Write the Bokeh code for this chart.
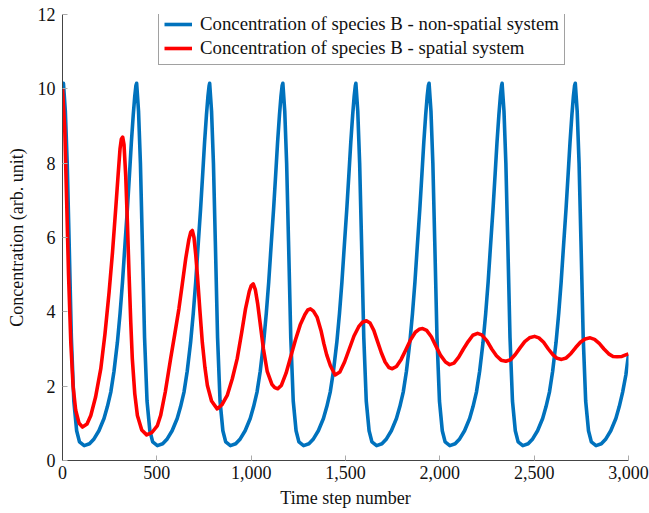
from bokeh.plotting import figure
from bokeh.models import Range1d, NumeralTickFormatter, FixedTicker, Legend, LegendItem
from bokeh.embed import file_html
from bokeh.resources import INLINE

# ---------------- data ----------------
x_ticks = [0, 500, 1000, 1500, 2000, 2500, 3000]
y_ticks = [0, 2, 4, 6, 8, 10, 12]

label_blue = "Concentration of species B - non-spatial system"
label_red = "Concentration of species B - spatial system"
x_label = "Time step number"
y_label = "Concentration (arb. unit)"

blue_x = [0,
          5, 15, 25, 35, 47, 60, 75, 90, 115, 143, 167, 193, 220, 238, 256, 273, 291, 305, 318, 331, 344, 355, 365, 375, 383, 389,
          393, 403, 413, 423, 435, 448, 463, 478, 503, 531, 555, 581, 608, 626, 644, 661, 679, 693, 706, 719, 732, 743, 753, 763, 771, 777,
          780, 790, 800, 810, 822, 835, 850, 865, 890, 918, 942, 968, 995, 1013, 1031, 1048, 1066, 1080, 1093, 1106, 1119, 1130, 1140, 1150, 1158, 1164,
          1168, 1178, 1188, 1198, 1210, 1223, 1238, 1253, 1278, 1306, 1330, 1356, 1383, 1401, 1419, 1436, 1454, 1468, 1481, 1494, 1507, 1518, 1528, 1538, 1546, 1552,
          1555, 1565, 1575, 1585, 1597, 1610, 1625, 1640, 1665, 1693, 1717, 1743, 1770, 1788, 1806, 1823, 1841, 1855, 1868, 1881, 1894, 1905, 1915, 1925, 1933, 1939,
          1943, 1953, 1963, 1973, 1985, 1998, 2013, 2028, 2053, 2081, 2105, 2131, 2158, 2176, 2194, 2211, 2229, 2243, 2256, 2269, 2282, 2293, 2303, 2313, 2321, 2327,
          2330, 2340, 2350, 2360, 2372, 2385, 2400, 2415, 2440, 2468, 2492, 2518, 2545, 2563, 2581, 2598, 2616, 2630, 2643, 2656, 2669, 2680, 2690, 2700, 2708, 2714,
          2718, 2728, 2738, 2748, 2760, 2773, 2788, 2803, 2828, 2856, 2880, 2906, 2933, 2951, 2969, 2986, 3000]
blue_y = [10.0,
          10.15, 9.4, 8.0, 5.9, 3.3, 1.6, 0.8, 0.5, 0.40, 0.45, 0.58, 0.8, 1.13, 1.45, 1.84, 2.4, 3.18, 3.95, 4.8, 5.8, 6.78, 7.7, 8.56, 9.3, 9.8, 10.08,
          10.15, 9.4, 8.0, 5.9, 3.3, 1.6, 0.8, 0.5, 0.40, 0.45, 0.58, 0.8, 1.13, 1.45, 1.84, 2.4, 3.18, 3.95, 4.8, 5.8, 6.78, 7.7, 8.56, 9.3, 9.8, 10.08,
          10.15, 9.4, 8.0, 5.9, 3.3, 1.6, 0.8, 0.5, 0.40, 0.45, 0.58, 0.8, 1.13, 1.45, 1.84, 2.4, 3.18, 3.95, 4.8, 5.8, 6.78, 7.7, 8.56, 9.3, 9.8, 10.08,
          10.15, 9.4, 8.0, 5.9, 3.3, 1.6, 0.8, 0.5, 0.40, 0.45, 0.58, 0.8, 1.13, 1.45, 1.84, 2.4, 3.18, 3.95, 4.8, 5.8, 6.78, 7.7, 8.56, 9.3, 9.8, 10.08,
          10.15, 9.4, 8.0, 5.9, 3.3, 1.6, 0.8, 0.5, 0.40, 0.45, 0.58, 0.8, 1.13, 1.45, 1.84, 2.4, 3.18, 3.95, 4.8, 5.8, 6.78, 7.7, 8.56, 9.3, 9.8, 10.08,
          10.15, 9.4, 8.0, 5.9, 3.3, 1.6, 0.8, 0.5, 0.40, 0.45, 0.58, 0.8, 1.13, 1.45, 1.84, 2.4, 3.18, 3.95, 4.8, 5.8, 6.78, 7.7, 8.56, 9.3, 9.8, 10.08,
          10.15, 9.4, 8.0, 5.9, 3.3, 1.6, 0.8, 0.5, 0.40, 0.45, 0.58, 0.8, 1.13, 1.45, 1.84, 2.4, 3.18, 3.95, 4.8, 5.8, 6.78, 7.7, 8.56, 9.3, 9.8, 10.08,
          10.15, 9.4, 8.0, 5.9, 3.3, 1.6, 0.8, 0.5, 0.40, 0.45, 0.58, 0.8, 1.13, 1.45, 1.84, 2.3, 2.85]

red_x = [0, 12, 22, 32, 44, 56, 70, 88, 106, 130, 150, 175, 203, 225, 247, 265, 282, 295, 305, 312,
         319, 326, 335, 344, 353, 362, 370, 383, 397, 420, 446, 475, 503, 520, 545, 573, 595, 617, 635, 653,
         670, 680, 688, 697, 706, 715, 728, 741, 755, 768, 790, 820, 845, 873, 900, 926, 950, 970, 990, 1000,
         1011, 1022, 1035, 1050, 1065, 1085, 1110, 1125, 1141, 1160, 1185, 1210, 1235, 1260, 1285, 1300, 1314, 1330, 1350, 1370,
         1385, 1400, 1420, 1445, 1470, 1495, 1520, 1545, 1570, 1590, 1611, 1630, 1650, 1670, 1690, 1710, 1730, 1748, 1770, 1795,
         1820, 1845, 1870, 1890, 1909, 1930, 1955, 1980, 2005, 2030, 2052, 2075, 2100, 2125, 2150, 2175, 2200, 2222, 2250, 2275,
         2300, 2325, 2350, 2375, 2400, 2425, 2450, 2475, 2502, 2525, 2550, 2575, 2600, 2622, 2645, 2670, 2695, 2720, 2745, 2770,
         2797, 2820, 2845, 2870, 2895, 2918, 2940, 2965, 2985, 3000]
red_y = [10.0, 8.9, 7.0, 5.0, 3.18, 2.0, 1.35, 1.0, 0.90, 0.98, 1.21, 1.7, 2.47, 3.4, 4.53, 5.6, 6.77, 7.7, 8.39, 8.65,
         8.70, 8.5, 7.67, 6.4, 4.98, 3.7, 2.74, 1.8, 1.21, 0.82, 0.69, 0.76, 0.94, 1.21, 1.85, 2.74, 3.4, 4.08, 4.75, 5.43,
         5.95, 6.15, 6.19, 6.0, 5.55, 4.98, 4.05, 3.18, 2.5, 2.02, 1.6, 1.39, 1.5, 1.75, 2.2, 2.74, 3.45, 4.08, 4.55, 4.7,
         4.75, 4.6, 4.2, 3.6, 3.0, 2.4, 2.05, 1.96, 1.93, 2.02, 2.35, 2.8, 3.25, 3.65, 3.93, 4.05, 4.08, 4.02, 3.85, 3.5,
         3.15, 2.85, 2.55, 2.3, 2.38, 2.65, 3.0, 3.35, 3.6, 3.72, 3.76, 3.7, 3.5, 3.2, 2.9, 2.65, 2.5, 2.47, 2.53, 2.72,
         2.98, 3.25, 3.45, 3.53, 3.55, 3.5, 3.33, 3.07, 2.82, 2.65, 2.58, 2.62, 2.78, 3.0, 3.2, 3.37, 3.42, 3.38, 3.22, 3.0,
         2.82, 2.7, 2.67, 2.71, 2.85, 3.03, 3.2, 3.3, 3.34, 3.3, 3.18, 3.0, 2.84, 2.75, 2.72, 2.76, 2.88, 3.04, 3.18, 3.27,
         3.30, 3.26, 3.15, 3.0, 2.87, 2.8, 2.79, 2.8, 2.84, 2.87]

assert len(blue_x) == len(blue_y), (len(blue_x), len(blue_y))
assert len(red_x) == len(red_y), (len(red_x), len(red_y))

# ---------------- figure ----------------
FONT = "Liberation Serif"

p = figure(width=649, height=513, output_backend="svg", toolbar_location=None,
           x_range=Range1d(0, 3000), y_range=Range1d(0, 12),
           min_border_left=62, min_border_right=21, min_border_top=14, min_border_bottom=53)

p.outline_line_color = None
p.xgrid.visible = False
p.ygrid.visible = False
p.background_fill_color = "white"
p.border_fill_color = "white"

r_blue = p.line(blue_x, blue_y, line_color="#0072BD", line_width=3.6, line_join="round")
r_red = p.line(red_x, red_y, line_color="#FF0000", line_width=3.6, line_join="round")

for ax in (p.xaxis[0], p.yaxis[0]):
    ax.axis_line_color = "#444444"
    ax.axis_line_width = 1
    ax.major_tick_in = 5
    ax.major_tick_out = 0
    ax.major_tick_line_color = "#aaaaaa"
    ax.minor_tick_line_color = None
    ax.major_label_text_font = FONT
    ax.major_label_text_font_size = "18px"
    ax.major_label_text_color = "#111111"
    ax.axis_label_text_font = FONT
    ax.axis_label_text_font_size = "18px"
    ax.axis_label_text_font_style = "normal"
    ax.axis_label_text_color = "#111111"

p.xaxis[0].ticker = FixedTicker(ticks=x_ticks)
p.xaxis[0].formatter = NumeralTickFormatter(format="0,0")
p.xaxis[0].axis_label = x_label
p.xaxis[0].major_label_standoff = 5
p.xaxis[0].axis_label_standoff = 6

p.yaxis[0].ticker = FixedTicker(ticks=y_ticks)
p.yaxis[0].axis_label = y_label
p.yaxis[0].major_label_standoff = 7
p.yaxis[0].axis_label_standoff = 8

legend = Legend(items=[LegendItem(label=label_blue, renderers=[r_blue]),
                       LegendItem(label=label_red, renderers=[r_red])],
                location=(96, 395))
legend.border_line_color = "#444444"
legend.border_line_width = 1
legend.background_fill_color = "white"
legend.background_fill_alpha = 1
legend.label_text_font = FONT
legend.label_text_font_size = "18.8px"
legend.label_text_color = "#111111"
legend.glyph_width = 28
legend.glyph_height = 20
legend.label_height = 20
legend.label_standoff = 8
legend.padding = 5
legend.spacing = 2
legend.margin = 0
p.add_layout(legend)

open("out.html", "w").write(file_html(p, INLINE))
